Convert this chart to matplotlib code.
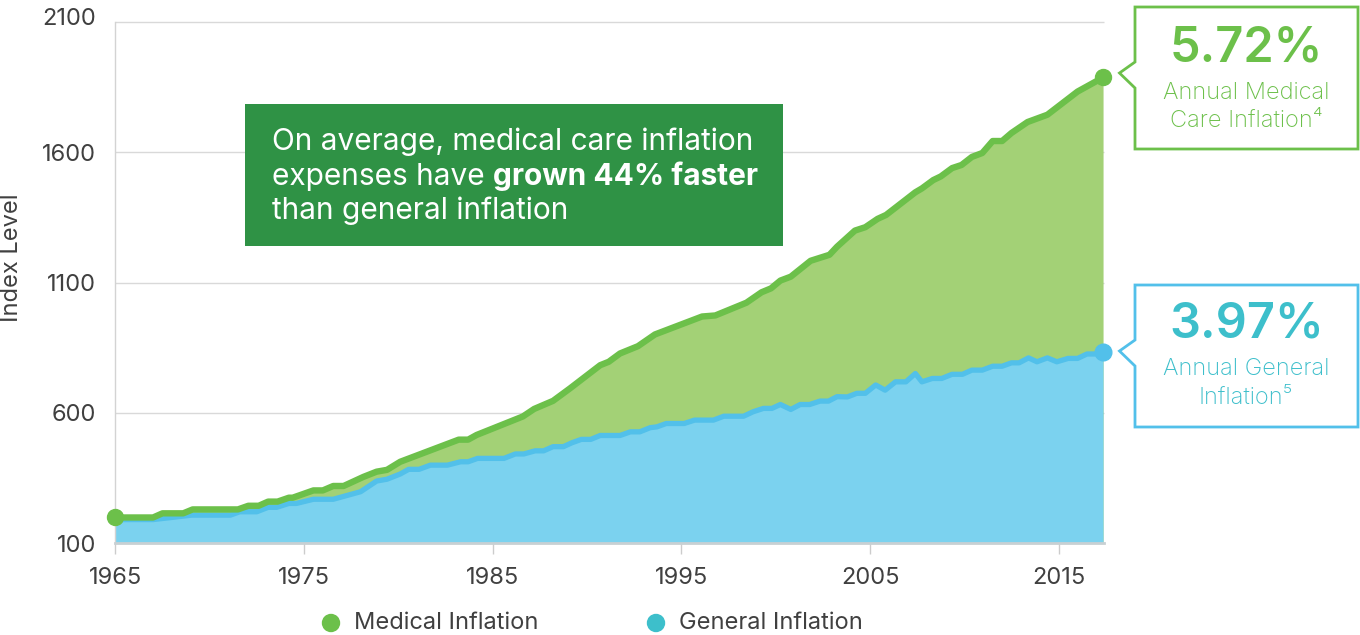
import matplotlib.pyplot as plt
import matplotlib.transforms as mtransforms
from matplotlib.patches import Polygon, Rectangle, Ellipse
from matplotlib.text import Annotation

# index values (irregular vertices, year fractions)
med_years = [1965.0, 1967.0, 1967.5, 1968.6, 1969.1, 1971.5, 1972.05, 1972.6, 1973.1, 1973.6,
             1974.2, 1974.4, 1975.5, 1976.0, 1976.55, 1977.1, 1978.15, 1978.85, 1979.4, 1980.1,
             1983.2, 1983.7, 1984.15, 1986.6, 1987.2, 1988.2, 1989.1, 1990.7, 1991.15, 1991.75,
             1992.7, 1993.6, 1996.1, 1996.8, 1998.45, 1999.25, 1999.75, 2000.25, 2000.8, 2001.85,
             2002.85, 2003.25, 2004.2, 2004.75, 2005.4, 2005.85, 2007.4, 2007.75, 2008.35, 2008.75,
             2009.35, 2009.85, 2010.4, 2010.95, 2011.5, 2012.0, 2012.5, 2013.35, 2014.4, 2016.0,
             2017.35]
med_index = [198, 198, 214, 214, 229, 229, 243, 243, 259, 259,
             274, 274, 302, 302, 319, 319, 354, 374, 381, 412,
             497, 497, 515, 586, 615, 646, 694, 783, 796, 828,
             856, 901, 970, 974, 1023, 1063, 1078, 1108, 1123, 1184,
             1207, 1238, 1300, 1313, 1345, 1360, 1447, 1462, 1494, 1508,
             1540, 1552, 1583, 1598, 1644, 1644, 1675, 1717, 1745, 1834,
             1888]

gen_years = [1965.0, 1967.0, 1968.1, 1969.05, 1971.1, 1971.6, 1972.5, 1973.1, 1973.55, 1974.2,
             1974.6, 1975.5, 1976.55, 1978.0, 1978.85, 1979.4, 1980.1, 1980.55, 1981.1, 1981.7,
             1982.6, 1983.3, 1983.7, 1984.2, 1985.6, 1986.2, 1986.65, 1987.25, 1987.7, 1988.2,
             1988.75, 1989.2, 1989.7, 1990.2, 1990.7, 1991.75, 1992.3, 1992.8, 1993.35, 1993.7,
             1994.2, 1995.15, 1995.7, 1996.7, 1997.25, 1998.3, 1998.8, 1999.35, 1999.8, 2000.25,
             2000.8, 2001.3, 2001.8, 2002.35, 2002.8, 2003.25, 2003.8, 2004.3, 2004.75, 2005.3,
             2005.8, 2006.35, 2006.9, 2007.4, 2007.75, 2008.3, 2008.8, 2009.35, 2009.9, 2010.4,
             2010.95, 2011.5, 2012.0, 2012.5, 2012.9, 2013.4, 2013.85, 2014.4, 2014.9, 2015.5,
             2016.0, 2016.5, 2017.1, 2017.35]
gen_index = [190, 190, 199, 207, 207, 220, 220, 237, 237, 252,
             252, 268, 268, 297, 338, 345, 365, 383, 383, 399,
             399, 412, 412, 425, 425, 442, 442, 454, 454, 470,
             470, 485, 498, 498, 513, 513, 527, 527, 543, 546,
             559, 559, 572, 572, 587, 587, 604, 617, 617, 632,
             613, 632, 632, 645, 645, 662, 661, 675, 675, 707,
             687, 719, 719, 751, 719, 732, 732, 748, 748, 764,
             764, 779, 779, 792, 792, 811, 796, 811, 796, 809,
             809, 826, 826, 834]

y_ticks = [100, 600, 1100, 1600, 2100]
x_ticks = [1965, 1975, 1985, 1995, 2005, 2015]

GREEN = '#6CC04A'
GREEN_FILL = '#A3D176'
BLUE = '#52C0EA'
BLUE_FILL = '#7BD2EF'
TEAL = '#3DBFCB'
BOX_GREEN = '#2F9245'
TXT = '#404040'
FONT = 'Inter'
FS = 17

W, H = 1360, 635
plt.rcParams['font.family'] = [FONT, 'DejaVu Sans']

fig = plt.figure(figsize=(W / 100, H / 100), dpi=100)
ax = fig.add_axes([115.3 / W, 1 - 543 / H, (1104 - 115.3) / W, (543 - 22.3) / H])


def fx(x):
    return x / W


def fy(y):
    return 1 - y / H


ax.set_xlim(1965, 2017.4)
ax.set_ylim(100, 2100)

# grid lines (drawn manually so the top one is not clipped)
ax.hlines(y_ticks[1:], 1965, 2017.4, color='#D9D9D9', lw=1, zorder=0, clip_on=False)

ax.fill_between(med_years, 100, med_index, color=GREEN_FILL, lw=0, zorder=1)
ax.fill_between(gen_years, 100, gen_index, color=BLUE_FILL, lw=0, zorder=2)
ax.plot(gen_years, gen_index, color=BLUE, lw=3.8, zorder=3, clip_on=False)
ax.plot(med_years, med_index, color=GREEN, lw=4.6, zorder=4, clip_on=False)

ax.plot([gen_years[-1]], [gen_index[-1]], 'o', color=BLUE, ms=12, zorder=5, clip_on=False)
ax.plot([med_years[0], med_years[-1]], [med_index[0], med_index[-1]], 'o',
        color=GREEN, ms=11.5, zorder=6, clip_on=False)

for s in ['top', 'right']:
    ax.spines[s].set_visible(False)
ax.spines['left'].set_color('#D3D3D3')
ax.spines['left'].set_linewidth(1)
ax.spines['bottom'].set_color('#C8D0D3')
ax.spines['bottom'].set_linewidth(2)
ax.spines['bottom'].set_zorder(7)

ax.set_yticks(y_ticks)
ax.set_yticklabels([str(v) for v in y_ticks])
ax.set_xticks(x_ticks)
ax.set_xticklabels([str(v) for v in x_ticks])
ax.tick_params(axis='y', length=0, pad=14, labelsize=FS, labelcolor=TXT)
ax.tick_params(axis='x', length=8, width=1, color='#CCCCCC', pad=9, labelsize=FS, labelcolor=TXT)

# top label sits a bit higher than its grid line
top_lbl = ax.get_yticklabels()[-1]
top_lbl.set_transform(top_lbl.get_transform() +
                      mtransforms.ScaledTranslation(0, 6 / 100, fig.dpi_scale_trans))

fig.text(fx(12), fy(258), 'Index Level', rotation=90, ha='center', va='center',
         fontsize=FS, color=TXT)

# annotation box
fig.add_artist(Rectangle((fx(245), fy(246)), (783 - 245) / W, (246 - 104) / H,
                         transform=fig.transFigure, facecolor=BOX_GREEN, edgecolor='none',
                         zorder=8))
box_kw = dict(fontsize=21.5, color='white', ha='left', va='baseline', zorder=9)
fig.text(fx(272), fy(150), 'On average, medical care inflation', **box_kw)
t2 = fig.text(fx(272), fy(185), 'expenses have ', **box_kw)
fig.add_artist(Annotation('grown 44% faster', xy=(1, 0), xycoords=t2, ha='left', va='bottom',
                          fontsize=21.5, color='white', fontweight='bold', zorder=9))
fig.text(fx(272), fy(219), 'than general inflation', **box_kw)


def callout(top, bottom, tip_y, color):
    x0, x1, tip_x = 1135, 1358, 1119.5
    pts = [(x0, top), (x1, top), (x1, bottom), (x0, bottom), (x0, tip_y + 15),
           (tip_x, tip_y), (x0, tip_y - 11), (x0, top)]
    fig.add_artist(Polygon([(fx(a), fy(b)) for a, b in pts], closed=True,
                           transform=fig.transFigure, facecolor='white', edgecolor=color,
                           lw=2, zorder=8))


txt_kw = dict(ha='center', va='center', zorder=9)
sub_kw = dict(fontsize=17, fontweight='light', **txt_kw)

callout(7, 149, 73, GREEN)
fig.text(fx(1246), fy(48), '5.72%', fontsize=35, fontweight='semibold', color=GREEN, **txt_kw)
fig.text(fx(1246), fy(93), 'Annual Medical', color=GREEN, **sub_kw)
fig.text(fx(1246), fy(121), 'Care Inflation\u2074', color=GREEN, **sub_kw)

callout(285, 427, 351, BLUE)
fig.text(fx(1247), fy(325), '3.97%', fontsize=35, fontweight='semibold', color=TEAL, **txt_kw)
fig.text(fx(1246), fy(369), 'Annual General', color=TEAL, **sub_kw)
fig.text(fx(1246), fy(398), 'Inflation\u2075', color=TEAL, **sub_kw)

# legend
for cx, col, label in [(331, GREEN, 'Medical Inflation'), (656, TEAL, 'General Inflation')]:
    fig.add_artist(Ellipse((fx(cx), fy(623)), 17 / W, 17 / H, transform=fig.transFigure,
                           color=col))
    fig.text(fx(cx + 23), fy(623), label, ha='left', va='center', fontsize=FS, color=TXT)

fig.savefig('out.png', dpi=100)
